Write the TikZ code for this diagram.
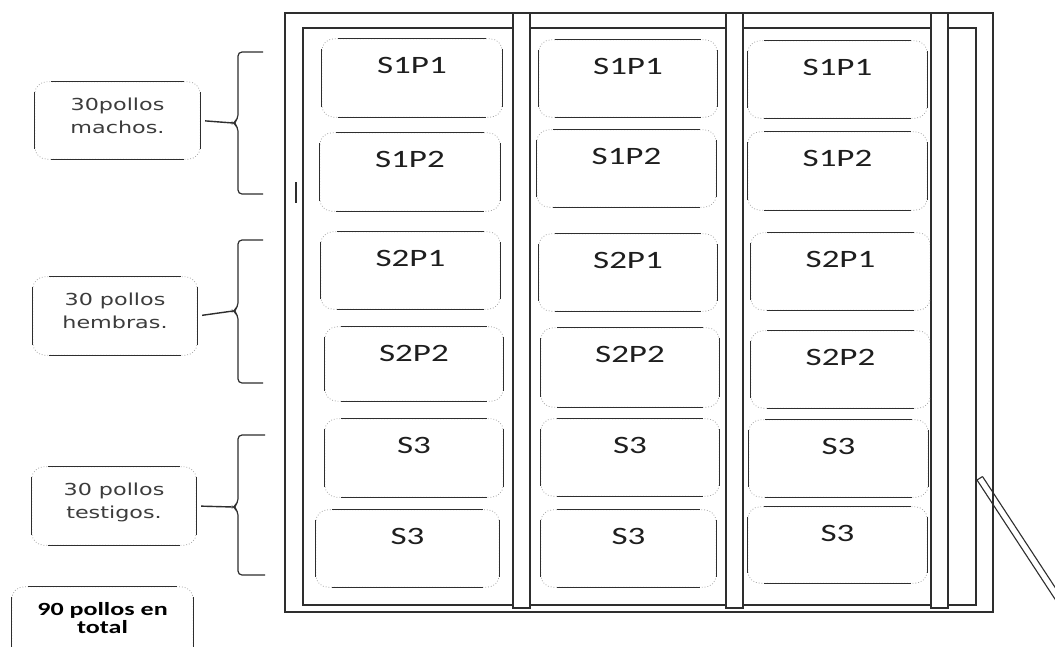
\documentclass[tikz,border=0pt]{standalone}
\usepackage{fontspec}
\newfontfamily\cellfont[FakeStretch=1.4]{Carlito}
\newfontfamily\labfont[FakeStretch=1.35]{DejaVu Sans}
\newfontfamily\totfont[FakeStretch=1.4]{Carlito}
\definecolor{linec}{HTML}{2E2E2E}
\definecolor{textc}{HTML}{1E1E1E}
\definecolor{labc}{HTML}{3C3C3C}
\tikzset{
  frame/.style={draw=linec, line width=1.3pt},
  edge/.style={draw=linec, line width=1.2pt},
  corner/.style={draw=gray!70, dotted, line width=0.8pt, rounded corners=12pt},
  cellbox/.style={inner sep=0pt, font=\cellfont\fontsize{25}{25}\selectfont, text=textc},
  labbox/.style={inner sep=0pt, font=\labfont\fontsize{16.5}{23}\selectfont, text=labc},
  totbox/.style={inner sep=0pt, font=\totfont\bfseries\fontsize{18.6}{18.5}\selectfont, text=black},
  brace/.style={draw=linec, line width=1.2pt, rounded corners=4pt},
  link/.style={draw=linec, line width=1.4pt, shorten <=5pt},
}
% rounded frame: dotted corners, solid sides
\newcommand\rframe[1]{%
  \draw[corner] (#1.north west) rectangle (#1.south east);
  \draw[edge] ([xshift=16pt]#1.north west) -- ([xshift=-16pt]#1.north east);
  \draw[edge] ([xshift=16pt]#1.south west) -- ([xshift=-16pt]#1.south east);
  \draw[edge] ([yshift=-10pt]#1.north west) -- ([yshift=10pt]#1.south west);
  \draw[edge] ([yshift=-10pt]#1.north east) -- ([yshift=10pt]#1.south east);
}
% box node: style, name, x1, y1, x2, y2, baseline offset from top, content
\newcommand\pbox[8]{%
  \pgfmathsetmacro\bxdep{#6-#4-#7}%
  \node[#1, minimum width={#5-#3}, minimum height={#6-#4}, text height=#7pt, text depth=\bxdep pt]
    (#2) at ({(#3+#5)/2},{(#4+#6)/2}) {#8};
  \rframe{#2}}
\newcommand\pcell[6]{\pbox{cellbox}{#1}{#2}{#3}{#4}{#5}{34}{#6}}
\newcommand\two[2]{\begin{tabular}[t]{@{}c@{}}#1\\#2\end{tabular}}
\begin{document}
\begin{tikzpicture}[x=1pt,y=-1pt]
\useasboundingbox (0,0) rectangle (1055,646);
\clip (0,0) rectangle (1055,646);
\fill[white] (0,0) rectangle (1055,646);

% house frame
\draw[frame] (285,13) rectangle (993,612);
\draw[frame] (303,28) rectangle (976,605);
\draw[frame, fill=white] (513,13) rectangle (530,608);
\draw[frame, fill=white] (726,13) rectangle (743,608);
\draw[frame, fill=white] (931,13) rectangle (948,608);
\draw[edge] (296,182) -- (296,203);
% door
\draw[frame, line width=1.1pt] (977,480) -- (982.5,476.5);
\draw[frame, line width=1.1pt] (977,480) -- ++(110,168);
\draw[frame, line width=1.1pt] (982.5,476.5) -- ++(110,168);

% column 1
\pcell{c11}{322}{39}{502}{117}{S1P1}
\pcell{c12}{320}{133}{500}{211}{S1P2}
\pcell{c13}{321}{232}{500}{309}{S2P1}
\pcell{c14}{325}{327}{503}{401}{S2P2}
\pcell{c15}{325}{419}{503}{497}{S3}
\pcell{c16}{316}{510}{499}{587}{S3}
% column 2
\pcell{c21}{539}{40}{717}{117}{S1P1}
\pcell{c22}{537}{130}{716}{207}{S1P2}
\pcell{c23}{539}{234}{717}{311}{S2P1}
\pcell{c24}{541}{328}{719}{407}{S2P2}
\pcell{c25}{541}{419}{719}{496}{S3}
\pcell{c26}{541}{510}{716}{587}{S3}
% column 3
\pcell{c31}{748}{41}{927}{118}{S1P1}
\pcell{c32}{748}{132}{927}{210}{S1P2}
\pcell{c33}{751}{233}{930}{310}{S2P1}
\pcell{c34}{751}{331}{930}{408}{S2P2}
\pcell{c35}{749}{420}{928}{497}{S3}
\pcell{c36}{748}{507}{927}{583}{S3}

% labels
\pbox{labbox}{l1}{35}{82}{200}{159}{28}{\two{30pollos}{machos.}}
\pbox{labbox}{l2}{33}{277}{197}{355}{28}{\two{30 pollos}{hembras.}}
\pbox{labbox}{l3}{32}{467}{196}{545}{28}{\two{30 pollos}{testigos.}}
\pbox{totbox}{l4}{12}{587}{193}{660}{28}{\two{90 pollos en}{total}}

% braces
\coordinate (t1) at (233,123);
\coordinate (t2) at (233,311);
\coordinate (t3) at (233,507);
\draw[brace] (263,52) -- (238,52) -- (238,119) -- (t1) -- (238,127) -- (238,194) -- (263,194);
\draw[brace] (263,240) -- (238,240) -- (238,307) -- (t2) -- (238,315) -- (238,383) -- (263,383);
\draw[brace] (265,435) -- (238,435) -- (238,503) -- (t3) -- (238,511) -- (238,575) -- (265,575);
\draw[link] (l1.east) -- (t1);
\draw[link] (l2.east) -- (t2);
\draw[link] (l3.east) -- (t3);
\end{tikzpicture}
\end{document}
